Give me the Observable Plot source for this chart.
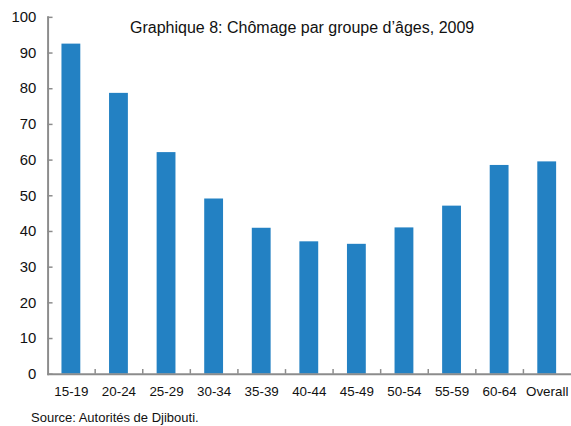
<!DOCTYPE html>
<html>
<head>
<meta charset="utf-8">
<script src="https://cdn.jsdelivr.net/npm/d3@7"></script>
<script src="https://cdn.jsdelivr.net/npm/@observablehq/plot@0.6"></script>
<style>
  html, body { margin: 0; padding: 0; background: #fff; overflow: hidden; }
  #wrap { position: relative; width: 571px; height: 426px; overflow: hidden; font-family: "Liberation Sans", Arial, sans-serif; }
  #title { position: absolute; left: 130px; top: 19px; font-size: 16px; color: #111; white-space: nowrap; }
  #source { position: absolute; left: 31px; top: 411px; font-size: 13px; line-height: 13px; color: #111; white-space: nowrap; }
</style>
</head>
<body>
<div id="wrap">
  <div id="chart"></div>
  <div id="title"></div>
  <div id="source"></div>
</div>
<script>
const titleText = "Graphique 8: Chômage par groupe d’âges, 2009";
const sourceText = "Source: Autorités de Djibouti.";
const categories = ["15-19", "20-24", "25-29", "30-34", "35-39", "40-44", "45-49", "50-54", "55-59", "60-64", "Overall"];
const values = [92.5, 78.7, 62.1, 49.1, 40.9, 37.1, 36.4, 41.0, 47.1, 58.5, 59.5];
const yTicks = [0, 10, 20, 30, 40, 50, 60, 70, 80, 90, 100];

const data = categories.map((c, i) => ({category: c, value: values[i]}));

const axisColor = "#8c8c8c";

const chart = Plot.plot({
  width: 576,
  height: 426,
  marginLeft: 48,
  marginRight: 0,
  marginTop: 17,
  marginBottom: 49,
  style: {fontFamily: "'Liberation Sans', Arial, sans-serif", background: "#fff"},
  x: {domain: categories, paddingInner: 0.6, paddingOuter: 0.3, label: null},
  y: {domain: [0, 100], label: null},
  marks: [
    Plot.barY(data, {x: "category", y: "value", fill: "#2381c3"}),
    Plot.ruleX(categories.slice(1), {x: d => d, dx: -24, y1: 0, y2: 1.3, stroke: axisColor, strokeWidth: 1.5}),
    Plot.ruleY([0], {stroke: axisColor, strokeWidth: 2}),
    Plot.frame({anchor: "left", stroke: axisColor, strokeWidth: 2}),
    Plot.axisY(yTicks, {tickSize: 5, dx: 5, fill: "none", stroke: axisColor, strokeWidth: 1.5}),
    Plot.axisY(yTicks, {tickSize: 0, tickPadding: 12, fontSize: 15, fill: "#111"}),
    Plot.axisX({tickSize: 0, tickPadding: 12, fontSize: 13.5, fill: "#111"})
  ]
});

document.getElementById("chart").appendChild(chart);
document.getElementById("title").textContent = titleText;
document.getElementById("source").textContent = sourceText;
</script>
</body>
</html>
